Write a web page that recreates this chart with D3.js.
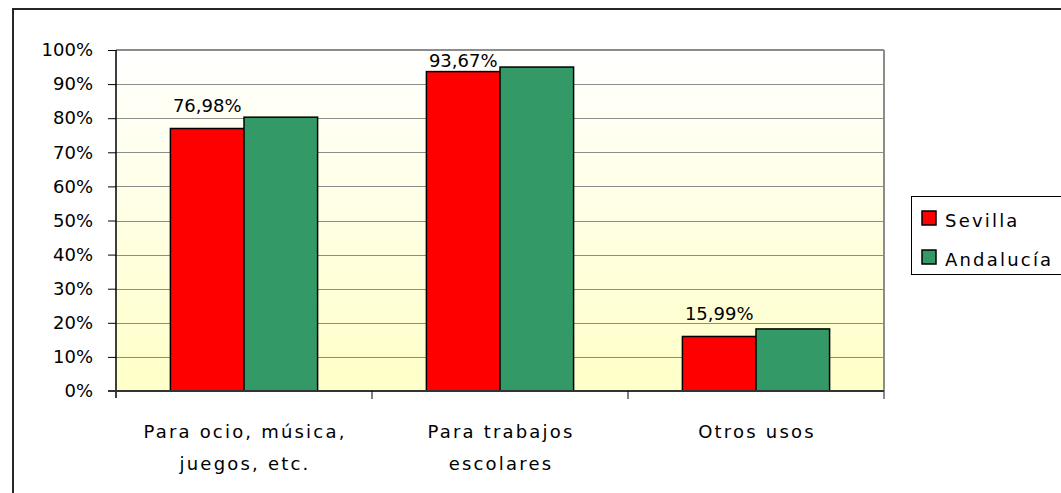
<!DOCTYPE html>
<html>
<head>
<meta charset="utf-8">
<script src="https://cdn.jsdelivr.net/npm/d3@7"></script>
<style>
  html, body { margin: 0; padding: 0; background: #fff; }
  svg { display: block; }
  text { font-family: "DejaVu Sans", sans-serif; fill: #000; }
</style>
</head>
<body>
<svg id="chart" width="1061" height="493"></svg>
<script>
const categories = [["Para ocio, música,", "juegos, etc."], ["Para trabajos", "escolares"], ["Otros usos"]];
const seriesNames = ["Sevilla", "Andalucía"];
const sevilla = [76.98, 93.67, 15.99];
const andalucia = [80.3, 95.0, 18.2];
const sevillaLabels = ["76,98%", "93,67%", "15,99%"];
const yTicks = [0, 10, 20, 30, 40, 50, 60, 70, 80, 90, 100];
const colors = ["#FF0000", "#339966"];

const svg = d3.select("#chart");
const W = 1061, H = 493;
const plot = { left: 116, top: 50, right: 884, bottom: 391 };

// outer border
svg.append("rect").attr("x", 13).attr("y", 9).attr("width", 1100).attr("height", 600)
  .attr("fill", "#fff").attr("stroke", "#262626").attr("stroke-width", 2);

const defs = svg.append("defs");
const grad = defs.append("linearGradient").attr("id", "bg").attr("x1", 0).attr("y1", 0).attr("x2", 0).attr("y2", 1);
grad.append("stop").attr("offset", "0%").attr("stop-color", "#FFFFFF");
grad.append("stop").attr("offset", "100%").attr("stop-color", "#FFFFC8");

const x0 = d3.scaleBand().domain(d3.range(categories.length)).range([plot.left, plot.right]).padding(0);
const bw = x0.bandwidth();
const x1 = d3.scaleBand().domain(seriesNames).range([bw * 0.2125, bw * 0.7875]).padding(0);
const y = d3.scaleLinear().domain([0, 100]).range([plot.bottom, plot.top]);

svg.append("rect").attr("x", plot.left).attr("y", plot.top)
  .attr("width", plot.right - plot.left).attr("height", plot.bottom - plot.top)
  .attr("fill", "url(#bg)");

// gridlines
svg.append("g").selectAll("line").data(yTicks.filter(t => t > 0)).join("line")
  .attr("x1", plot.left).attr("x2", plot.right)
  .attr("y1", d => Math.round(y(d)) + 0.5).attr("y2", d => Math.round(y(d)) + 0.5)
  .attr("stroke", "#8c8c8c").attr("stroke-width", 1);

// plot area border top/right
svg.append("line").attr("x1", plot.left).attr("x2", plot.right).attr("y1", plot.top).attr("y2", plot.top)
  .attr("stroke", "#8c8c8c").attr("stroke-width", 2);
svg.append("line").attr("x1", plot.right).attr("x2", plot.right).attr("y1", plot.top).attr("y2", plot.bottom + 8)
  .attr("stroke", "#8c8c8c").attr("stroke-width", 2);

// bars
const series = [sevilla, andalucia];
const gBars = svg.append("g");
categories.forEach((c, i) => {
  seriesNames.forEach((s, j) => {
    const v = series[j][i];
    gBars.append("rect")
      .attr("x", x0(i) + x1(s))
      .attr("y", y(v))
      .attr("width", x1.bandwidth())
      .attr("height", y(0) - y(v))
      .attr("fill", colors[j])
      .attr("stroke", "#000").attr("stroke-width", 1.5);
  });
});

// data labels for Sevilla
sevilla.forEach((v, i) => {
  const cx = x0(i) + x1("Sevilla") + x1.bandwidth() / 2;
  const by = Math.max(y(v) - 16, plot.top + 17);
  svg.append("text").attr("x", cx).attr("y", by).attr("text-anchor", "middle")
    .attr("font-size", 18).text(sevillaLabels[i]);
});

// y axis
const yAxis = d3.axisLeft(y).tickValues(yTicks).tickFormat(d => d + "%").tickSize(8).tickPadding(15);
const gy = svg.append("g").attr("transform", `translate(${plot.left},0)`).call(yAxis);
gy.select(".domain").remove();
gy.selectAll(".tick line").attr("stroke", "#000");
gy.selectAll(".tick text").attr("font-size", 18).attr("font-family", "DejaVu Sans, sans-serif").attr("fill", "#000");
svg.append("line").attr("x1", plot.left).attr("x2", plot.left).attr("y1", plot.top).attr("y2", plot.bottom + 7)
  .attr("stroke", "#000").attr("stroke-width", 1.5);

// x axis
svg.append("line").attr("x1", plot.left - 8).attr("x2", plot.right).attr("y1", plot.bottom).attr("y2", plot.bottom)
  .attr("stroke", "#333").attr("stroke-width", 2);
const bounds = d3.range(categories.length).map(i => x0(i)).slice(1);
svg.append("g").selectAll("line").data(bounds).join("line")
  .attr("x1", d => d).attr("x2", d => d).attr("y1", plot.bottom).attr("y2", plot.bottom + 8)
  .attr("stroke", "#000").attr("stroke-width", 1);

// category labels
categories.forEach((lines, i) => {
  const cx = x0(i) + bw / 2;
  lines.forEach((ln, k) => {
    svg.append("text").attr("x", cx + 1).attr("y", 438 + k * 32).attr("text-anchor", "middle")
      .attr("font-size", 18).attr("letter-spacing", "2.2px").text(ln);
  });
});

// legend
const lg = svg.append("g");
lg.append("rect").attr("x", 911.5).attr("y", 196.5).attr("width", 200).attr("height", 78)
  .attr("fill", "#fff").attr("stroke", "#000").attr("stroke-width", 1);
seriesNames.forEach((s, j) => {
  const yy = 211 + j * 39;
  lg.append("rect").attr("x", 922).attr("y", yy).attr("width", 14).attr("height", 14)
    .attr("fill", colors[j]).attr("stroke", "#000").attr("stroke-width", 1.5);
  lg.append("text").attr("x", 945).attr("y", yy + 15.5).attr("font-size", 18)
    .attr("letter-spacing", "2.2px").text(s);
});
</script>
</body>
</html>
